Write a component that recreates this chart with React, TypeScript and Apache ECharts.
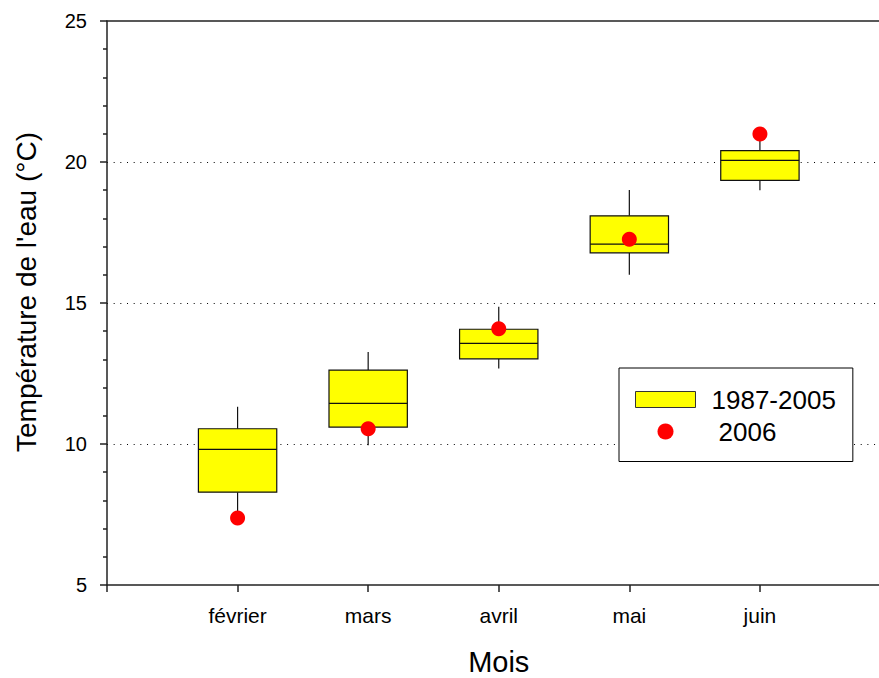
import React, { useEffect, useRef } from "react";
import * as echarts from "echarts";

// Monthly water temperature, 1987-2005 distribution vs. 2006 observation
const months = ["février", "mars", "avril", "mai", "juin"];
const whiskerLow = [7.5, 9.96, 12.68, 16.0, 19.0];
const quartile1 = [8.29, 10.6, 13.02, 16.78, 19.35];
const medians = [9.81, 11.44, 13.57, 17.09, 20.06];
const quartile3 = [10.54, 12.62, 14.07, 18.09, 20.4];
const whiskerHigh = [11.32, 13.26, 14.87, 19.01, 20.85];
const obs2006 = [7.38, 10.54, 14.09, 17.26, 20.99];
const yTicks = [5, 10, 15, 20, 25];

const FONT = "Arial, 'Liberation Sans', Helvetica, sans-serif";
const AXIS_COLOR = "#222";

export default function App() {
  const ref = useRef<HTMLDivElement>(null);

  useEffect(() => {
    if (!ref.current) return;
    const chart = echarts.init(ref.current, null, { renderer: "svg" });

    // month i sits at x = i + 1 on a 0..6 value axis
    const boxData = months.map((_, i) => [
      i + 1,
      whiskerLow[i],
      quartile1[i],
      medians[i],
      quartile3[i],
      whiskerHigh[i],
    ]);
    const dotData = months.map((_, i) => [i + 1, obs2006[i]]);

    const renderBox = (_params: any, api: any) => {
      const x = api.value(0);
      const pLow = api.coord([x, api.value(1)]);
      const pQ1 = api.coord([x, api.value(2)]);
      const pMed = api.coord([x, api.value(3)]);
      const pQ3 = api.coord([x, api.value(4)]);
      const pHigh = api.coord([x, api.value(5)]);
      const half = api.size([0.6, 0])[0] / 2;
      const cx = pMed[0];
      const stroke = { stroke: "#111", lineWidth: 1.2 };
      return {
        type: "group",
        children: [
          { type: "line", shape: { x1: cx, y1: pLow[1], x2: cx, y2: pQ1[1] }, style: stroke },
          { type: "line", shape: { x1: cx, y1: pQ3[1], x2: cx, y2: pHigh[1] }, style: stroke },
          {
            type: "rect",
            shape: { x: cx - half, y: pQ3[1], width: half * 2, height: pQ1[1] - pQ3[1] },
            style: { fill: "#ffff00", stroke: "#111", lineWidth: 1.2 },
          },
          { type: "line", shape: { x1: cx - half, y1: pMed[1], x2: cx + half, y2: pMed[1] }, style: stroke },
        ],
      };
    };

    chart.setOption({
      animation: false,
      backgroundColor: "#fff",
      textStyle: { fontFamily: FONT, color: "#000" },
      // the plot runs past the right edge of the canvas
      grid: {
        left: 107,
        width: 783.5,
        top: 21,
        bottom: 93,
        containLabel: false,
        outerBoundsMode: "none",
      },
      xAxis: [
        {
          type: "value",
          min: 0,
          max: 6,
          interval: 1,
          position: "bottom",
          name: "Mois",
          nameLocation: "middle",
          nameGap: 62,
          nameTextStyle: { fontSize: 29, color: "#000", fontFamily: FONT },
          axisLine: { show: true, onZero: false, lineStyle: { color: AXIS_COLOR, width: 1.5 } },
          axisTick: { show: true, length: 7, lineStyle: { color: AXIS_COLOR, width: 1.5 } },
          axisLabel: {
            fontSize: 21,
            color: "#000",
            margin: 20,
            fontFamily: FONT,
            formatter: (v: number) => months[v - 1] ?? "",
          },
          splitLine: { show: false },
        },
        {
          type: "value",
          min: 0,
          max: 6,
          position: "top",
          axisLine: { show: true, onZero: false, lineStyle: { color: AXIS_COLOR, width: 1.5 } },
          axisTick: { show: false },
          axisLabel: { show: false },
          splitLine: { show: false },
        },
      ],
      yAxis: {
        type: "value",
        min: yTicks[0],
        max: yTicks[yTicks.length - 1],
        interval: 5,
        axisLine: { show: true, onZero: false, lineStyle: { color: AXIS_COLOR, width: 1.5 } },
        axisTick: { show: true, length: 7, lineStyle: { color: AXIS_COLOR, width: 1.5 } },
        minorTick: { show: true, splitNumber: 5, length: 4, lineStyle: { color: AXIS_COLOR, width: 1.5 } },
        axisLabel: { fontSize: 20, color: "#000", margin: 20, fontFamily: FONT },
        splitLine: {
          show: true,
          showMinLine: false,
          showMaxLine: false,
          lineStyle: { color: "#000", width: 1, type: [1, 5.67] },
        },
      },
      legend: {
        orient: "vertical",
        left: 619,
        top: 368,
        padding: [18.5, 17, 17, 16],
        itemWidth: 60,
        itemHeight: 16,
        itemGap: 6,
        selectedMode: false,
        backgroundColor: "#fff",
        borderColor: "#000",
        borderWidth: 1,
        textStyle: { fontSize: 26, color: "#000", fontFamily: FONT },
        data: [
          {
            name: "1987-2005",
            icon: "rect",
            itemStyle: { color: "#ffff00", borderColor: "#333", borderWidth: 1 },
            textStyle: { padding: [0, 0, 0, 11] },
          },
          {
            name: "2006",
            icon: "circle",
            itemStyle: { color: "#ff0000", borderWidth: 0, opacity: 1 },
            textStyle: { padding: [0, 0, 0, 18] },
          },
        ],
      },
      graphic: [
        {
          type: "text",
          x: 26,
          y: 292,
          rotation: Math.PI / 2,
          style: {
            text: "Température de l'eau (°C)",
            font: `28px ${FONT}`,
            fill: "#000",
            textAlign: "center",
            textVerticalAlign: "middle",
          },
        },
      ],
      series: [
        {
          name: "1987-2005",
          type: "custom",
          renderItem: renderBox,
          encode: { x: 0, y: [1, 2, 3, 4, 5] },
          itemStyle: { color: "#ffff00" },
          data: boxData,
          z: 2,
        },
        {
          name: "2006",
          type: "scatter",
          symbol: "circle",
          symbolSize: 15,
          itemStyle: { color: "#ff0000", opacity: 1 },
          data: dotData,
          z: 3,
        },
      ],
    });

    return () => chart.dispose();
  }, []);

  return (
    <div
      ref={ref}
      style={{ position: "fixed", left: 0, top: 0, width: 879, height: 678 }}
    />
  );
}
